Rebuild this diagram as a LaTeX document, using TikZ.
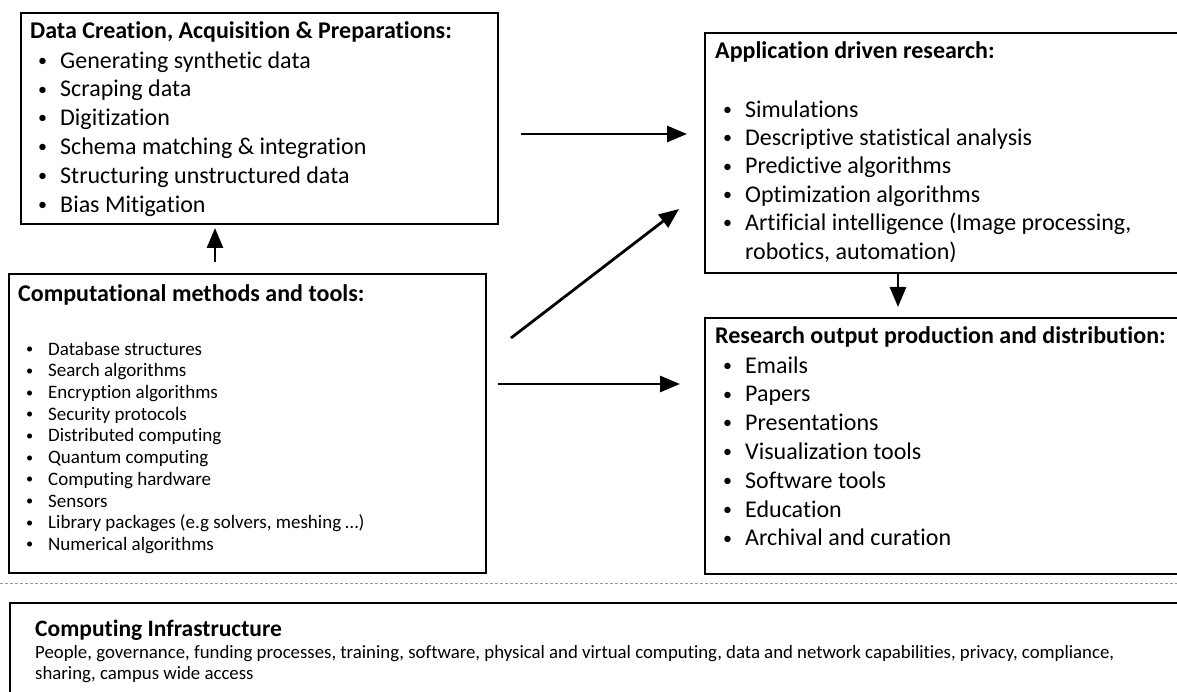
\documentclass[tikz,border=0pt]{standalone}
\usepackage{graphicx}
\usepackage{fontspec}
\setmainfont{Carlito}[Ligatures=NoCommon]
\usetikzlibrary{arrows.meta}

% bullet line: small dot, then text at a fixed indent
\newcommand{\itm}[1]{\makebox[30pt][l]{\hspace{8pt}\raisebox{0.08em}{\scalebox{0.75}{\textbullet}}}#1}

\begin{document}
\begin{tikzpicture}[
  x=1pt, y=-1pt,
  box/.style={draw, line width=2pt, anchor=north west, inner sep=0pt},
  head/.style={anchor=base west, inner sep=0pt, font=\fontsize{24}{28}\selectfont\bfseries},
  list/.style={anchor=north west, inner sep=0pt, align=left, font=\fontsize{24}{28.8}\selectfont},
  arr/.style={-{Triangle[length=20pt,width=16pt]}, line width=2.8pt},
  sep/.style={black!40, line width=1pt, dash pattern=on 3pt off 2pt}
]
\useasboundingbox (0,0) rectangle (1177,692);

% boxes
\node[box, minimum width=477pt, minimum height=211pt] (data) at (20,12) {};
\node[box, minimum width=477pt, minimum height=299pt] (comp) at (8,273) {};
\node[box, minimum width=481pt, minimum height=240pt] (app) at (704,32) {};
\node[box, minimum width=481pt, minimum height=256pt] (out) at (704,317) {};
\node[box, minimum width=1176pt, minimum height=100pt] (infra) at (9,602) {};

% data creation
\node[head] (datahead) at (30,39) {Data Creation, Acquisition \& Preparations:};
\node[list] (datalist) at (30,47.8) {\strut\itm{Generating synthetic data}\\
  \itm{Scraping data}\\
  \itm{Digitization}\\
  \itm{Schema matching \& integration}\\
  \itm{Structuring unstructured data}\\
  \itm{Bias Mitigation}};

% computational methods
\node[head] (comphead) at (18,302) {Computational methods and tools:};
\node[list, font=\fontsize{19}{21.7}\selectfont] (complist) at (18,339.8) {\strut\itm{Database structures}\\
  \itm{Search algorithms}\\
  \itm{Encryption algorithms}\\
  \itm{Security protocols}\\
  \itm{Distributed computing}\\
  \itm{Quantum computing}\\
  \itm{Computing hardware}\\
  \itm{Sensors}\\
  \itm{Library packages (e.g solvers, meshing \dots)}\\
  \itm{Numerical algorithms}};

% application driven research
\node[head] (apphead) at (715,59) {Application driven research:};
\node[list, font=\fontsize{24}{28.4}\selectfont] (applist) at (715,97.1) {\strut\itm{Simulations}\\
  \itm{Descriptive statistical analysis}\\
  \itm{Predictive algorithms}\\
  \itm{Optimization algorithms}\\
  \itm{Artificial intelligence (Image processing,}\\
  \hspace*{30pt}robotics, automation)};

% research output
\node[head] (outhead) at (715,344) {Research output production and distribution:};
\node[list] (outlist) at (715,352.8) {\strut\itm{Emails}\\
  \itm{Papers}\\
  \itm{Presentations}\\
  \itm{Visualization tools}\\
  \itm{Software tools}\\
  \itm{Education}\\
  \itm{Archival and curation}};

% infrastructure
\node[head, font=\fontsize{23.5}{28}\selectfont\bfseries] (infrahead) at (35,636) {Computing Infrastructure};
\node[list, font=\fontsize{18.8}{21}\selectfont] (infratext) at (35,643.3) {\strut People, governance, funding processes, training, software, physical and virtual computing, data and network capabilities, privacy, compliance,\\
  sharing, campus wide access};

\draw[sep] (0,583) -- (1177,583);

% flow
\draw[arr, shorten <=22pt, shorten >=17pt] ([yshift=-15.5pt]data.east) -- ([yshift=-15.5pt]data.east -| app.west);
\draw[arr] ([shift={(24,-85.5)}]comp.east) -- ([shift={(-25,56)}]app.west);
\draw[arr, shorten <=11pt, shorten >=24pt] ([yshift=39.5pt]comp.east) -- ([yshift=39.5pt]comp.east -| out.west);
\draw[arr, shorten <=11pt, shorten >=3pt] ([xshift=207pt]comp.north west) -- ([xshift=207pt]comp.north west |- data.south);
\draw[arr, shorten >=10pt] ([xshift=194pt]app.south west) -- ([xshift=194pt]app.south west |- out.north);
\end{tikzpicture}
\end{document}
